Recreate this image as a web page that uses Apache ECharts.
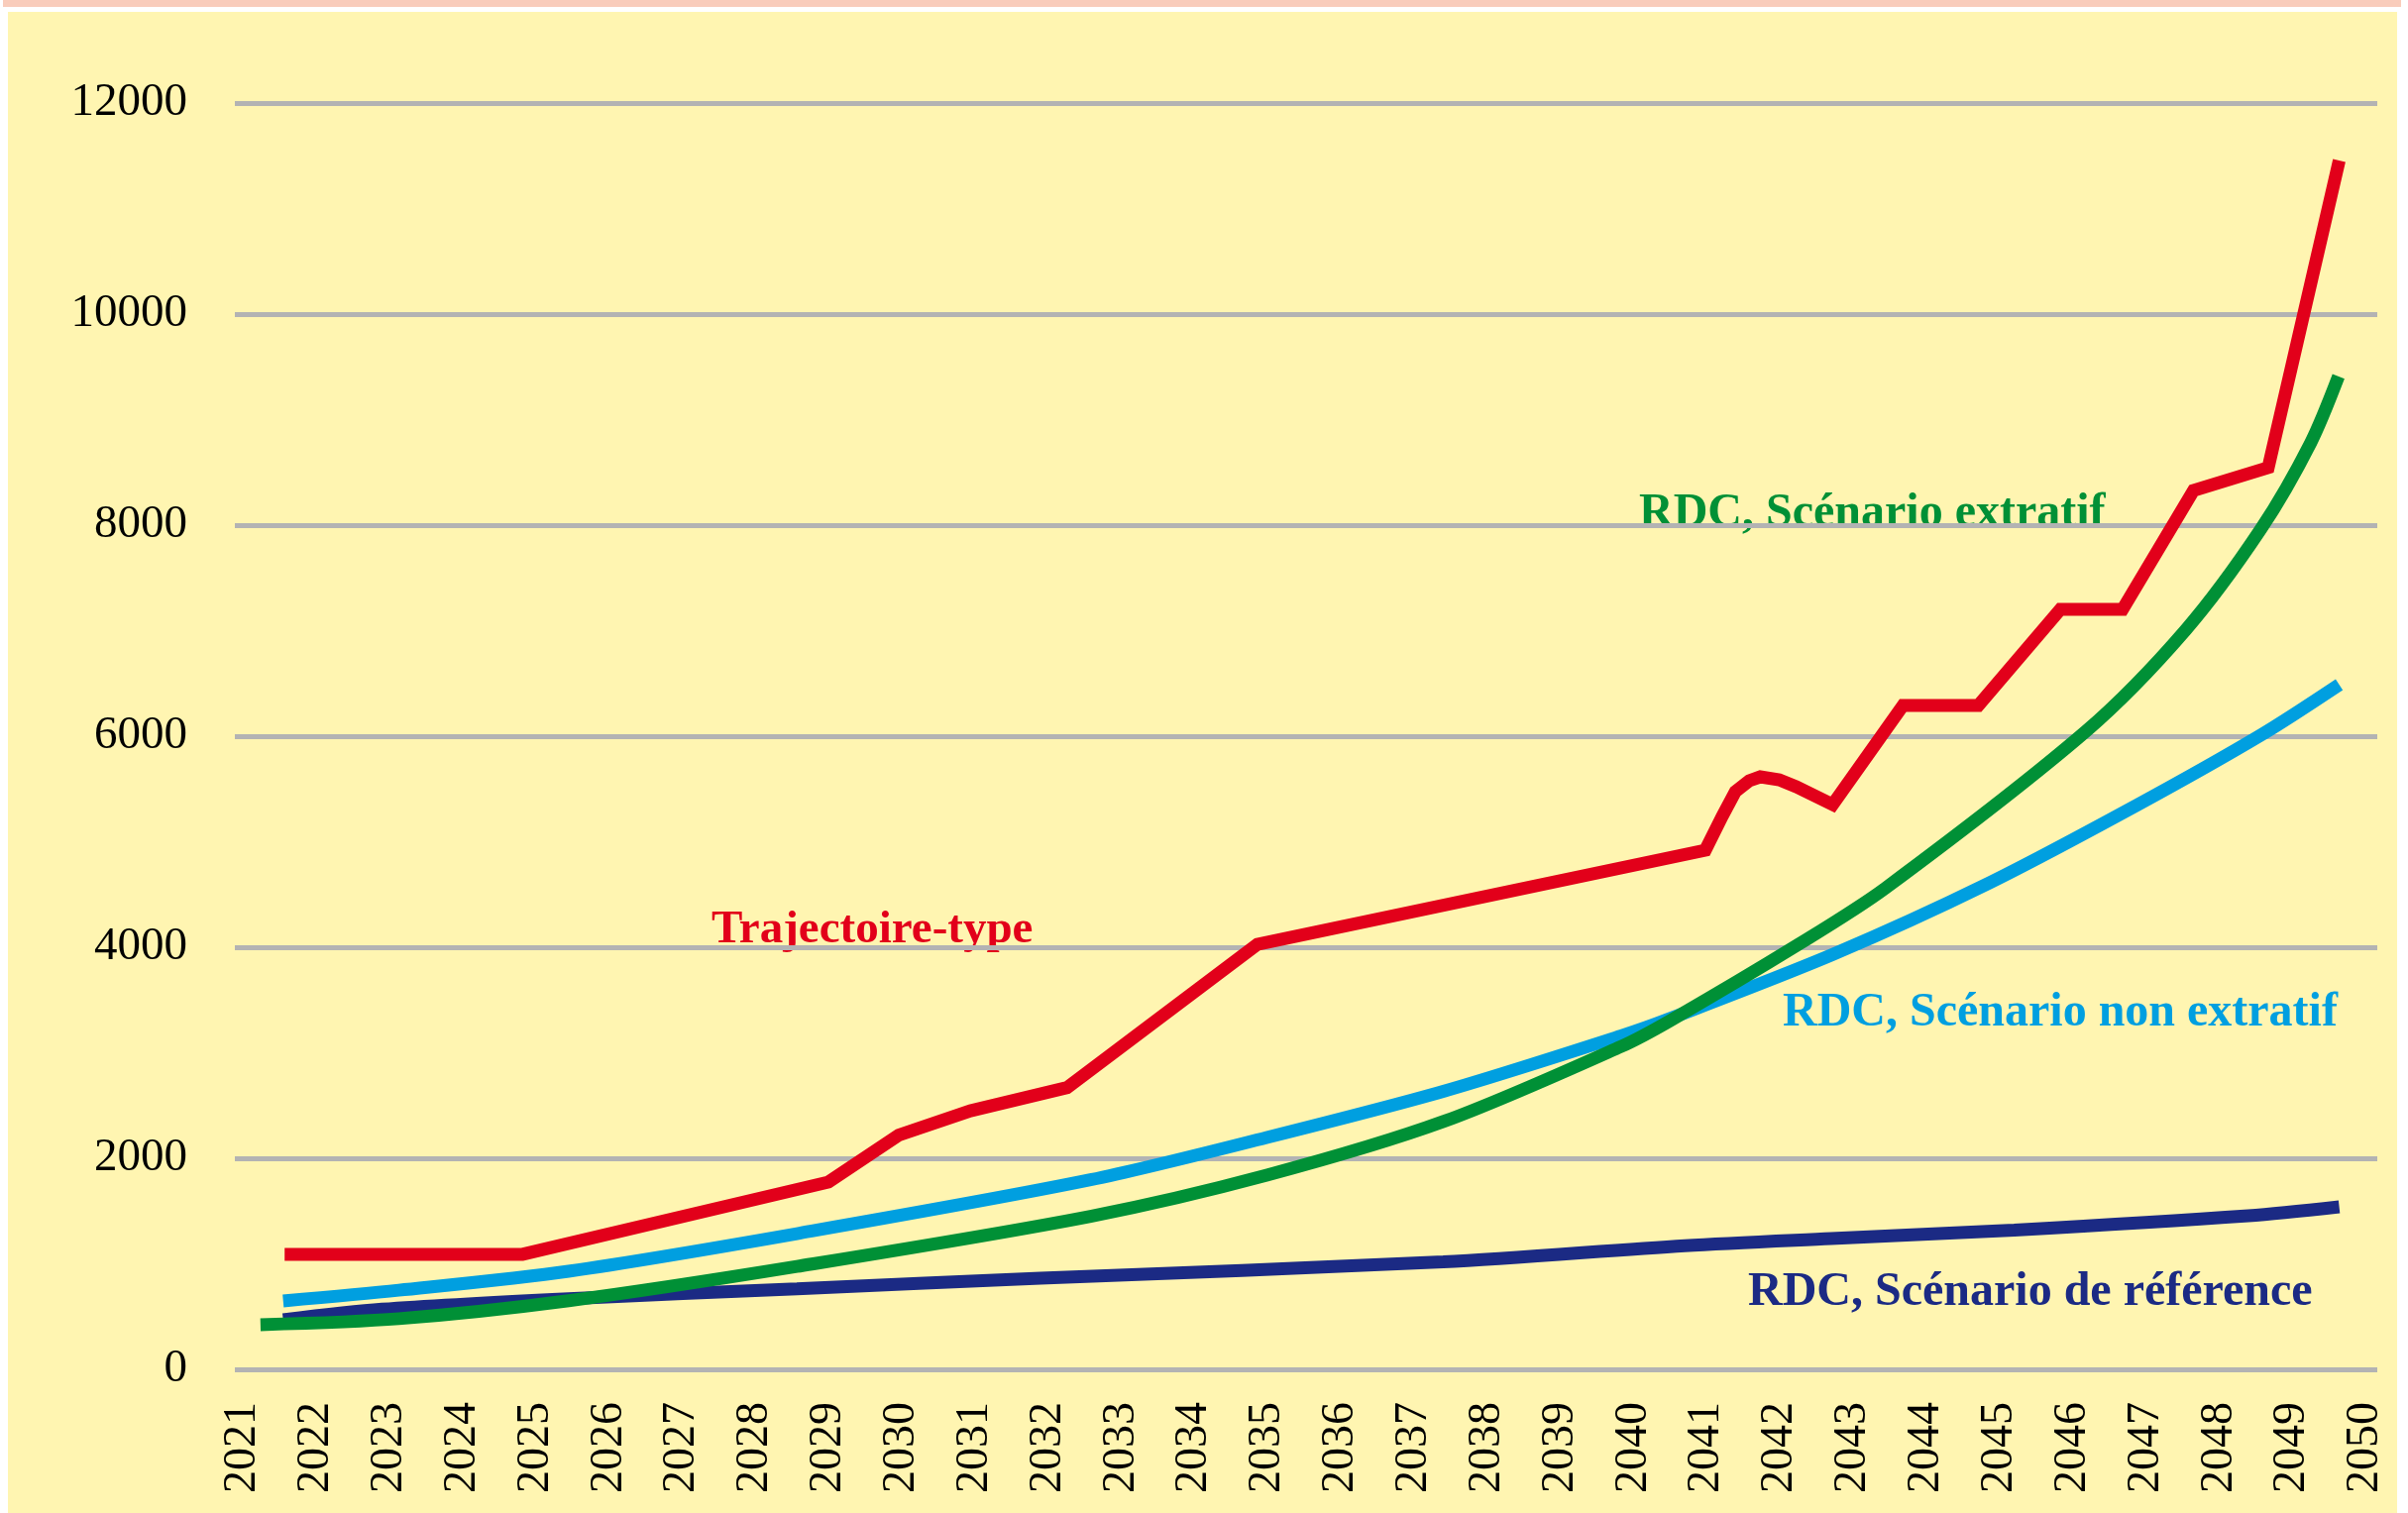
<!DOCTYPE html>
<html>
<head>
<meta charset="utf-8">
<script src="https://cdn.jsdelivr.net/npm/echarts@6/dist/echarts.min.js"></script>
<style>
  html, body { margin: 0; padding: 0; background: #ffffff; width: 2430px; height: 1527px; overflow: hidden; }
  #strip { position: absolute; left: 3px; top: 0; width: 2420px; height: 7px; background: #f9ccbb; }
  #panel { position: absolute; left: 8px; top: 12px; width: 2411px; height: 1515px; background: #fff5b1; }
  #chart { position: absolute; left: 0; top: 0; width: 2430px; height: 1527px; }
</style>
</head>
<body>
<div id="strip"></div>
<div id="panel"></div>
<div id="chart"></div>
<script>
// ---- Data ----
const tickYears = [2021,2022,2023,2024,2025,2026,2027,2028,2029,2030,2031,2032,2033,2034,2035,2036,2037,2038,2039,2040,2041,2042,2043,2044,2045,2046,2047,2048,2049,2050];
const yTicks = [0, 2000, 4000, 6000, 8000, 10000, 12000];

const trajYears  = [2021.57, 2024.82, 2029.0, 2029.96, 2030.94, 2032.26, 2034.86, 2040.98, 2041.21, 2041.39, 2041.58, 2041.73, 2041.99, 2042.22, 2042.72, 2043.68, 2044.71, 2045.83, 2046.68, 2047.65, 2048.67, 2049.64];
const trajValues = [1090, 1090, 1775, 2220, 2450, 2670, 4028, 4920, 5240, 5474, 5578, 5615, 5587, 5521, 5352, 6291, 6291, 7202, 7202, 8329, 8545, 11456];

const extrYears  = [2021.24, 2023.13, 2025.45, 2028.57, 2032.58, 2034.99, 2037.41, 2039.83, 2040.5, 2042.26, 2043.44, 2046.18, 2047.54, 2048.57, 2049.25, 2049.63];
const extrValues = [423, 480, 650, 975, 1450, 1840, 2350, 3060, 3305, 4030, 4560, 6047, 7005, 7963, 8780, 9409];

const nonExtrYears  = [2021.55, 2023.13, 2025.45, 2028.57, 2032.58, 2034.99, 2037.41, 2039.83, 2040.5, 2042.73, 2044.81, 2046.86, 2048.57, 2049.64];
const nonExtrValues = [648, 750, 930, 1286, 1796, 2197, 2636, 3160, 3325, 3934, 4592, 5340, 6010, 6488];

const refYears  = [2021.55, 2022.9, 2025.45, 2028.57, 2031.9, 2037.4, 2040.7, 2042.7, 2045.2, 2048.4, 2049.64];
const refValues = [470, 570, 670, 763, 864, 1018, 1172, 1240, 1320, 1455, 1540];

const seriesNames = ['Trajectoire-type', 'RDC, Scénario extratif', 'RDC, Scénario non extratif', 'RDC, Scénario de référence'];

// ---- Build ----
const zip = (xs, ys) => xs.map((x, i) => [x, ys[i]]);
const FONT = '"Liberation Serif", "Times New Roman", serif';

const chart = echarts.init(document.getElementById('chart'), null, { renderer: 'canvas' });

chart.setOption({
  backgroundColor: 'transparent',
  animation: false,
  grid: { left: 237, right: 31, top: 104, bottom: 145, containLabel: false },
  xAxis: {
    type: 'value',
    min: 2020.89,
    max: 2050.16,
    axisLine: { show: false },
    axisTick: { show: false },
    splitLine: { show: false },
    axisLabel: {
      customValues: tickYears,
      rotate: 90,
      margin: 33,
      fontFamily: FONT,
      fontSize: 46,
      color: '#000000',
      formatter: v => String(Math.round(v))
    }
  },
  yAxis: {
    type: 'value',
    min: yTicks[0],
    max: yTicks[yTicks.length - 1],
    interval: 2000,
    axisLine: { show: false },
    axisTick: { show: false },
    axisLabel: { margin: 48, fontFamily: FONT, fontSize: 47, color: '#000000', formatter: v => String(v) },
    splitLine: { show: true, lineStyle: { color: '#b3b3b3', width: 5 } }
  },
  series: [
    {
      name: seriesNames[3], type: 'line', data: zip(refYears, refValues),
      smooth: 0.3, showSymbol: false,
      lineStyle: { color: '#1b2a84', width: 13, cap: 'butt' }, z: 2
    },
    {
      name: seriesNames[2], type: 'line', data: zip(nonExtrYears, nonExtrValues),
      smooth: 0.3, showSymbol: false,
      lineStyle: { color: '#009fe0', width: 13, cap: 'butt' }, z: 3
    },
    {
      name: seriesNames[1], type: 'line', data: zip(extrYears, extrValues),
      smooth: 0.3, showSymbol: false,
      lineStyle: { color: '#009036', width: 13, cap: 'butt' }, z: 4
    },
    {
      name: seriesNames[0], type: 'line', data: zip(trajYears, trajValues),
      smooth: false, showSymbol: false,
      lineStyle: { color: '#e2001a', width: 13, cap: 'butt', join: 'miter' }, z: 5
    }
  ],
  graphic: [
    { type: 'text', x: 718, y: 939, style: { text: seriesNames[0], font: 'bold 47px ' + FONT, fill: '#e2001a', align: 'left', verticalAlign: 'middle' } },
    { type: 'text', x: 1654, y: 519, style: { text: seriesNames[1], font: 'bold 48px ' + FONT, fill: '#009036', align: 'left', verticalAlign: 'middle' } },
    { type: 'text', x: 1799, y: 1023, style: { text: seriesNames[2], font: 'bold 48px ' + FONT, fill: '#009fe0', align: 'left', verticalAlign: 'middle' } },
    { type: 'text', x: 1764, y: 1305, style: { text: seriesNames[3], font: 'bold 48px ' + FONT, fill: '#1b2a84', align: 'left', verticalAlign: 'middle' } }
  ]
});
</script>
</body>
</html>
